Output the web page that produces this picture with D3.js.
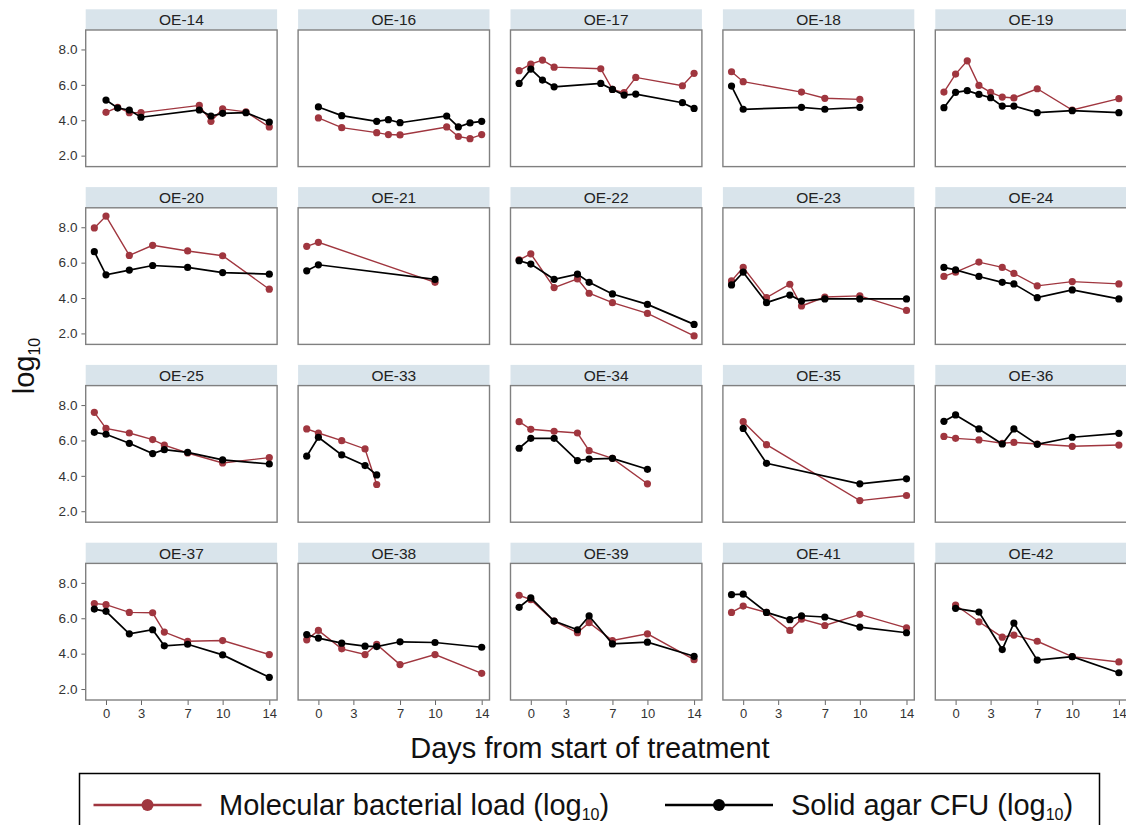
<!DOCTYPE html>
<html>
<head>
<meta charset="utf-8">
<script src="https://cdn.jsdelivr.net/npm/d3@7"></script>
<style>
    body { margin: 0; background: #fff; }
    svg { display: block; font-family: Arial, 'Liberation Sans', sans-serif; }
    .strip { fill: #d9e4eb; }
    .frame { fill: none; stroke: #808080; stroke-width: 1.4; }
    .strip-label { font-size: 15.5px; fill: #222; text-anchor: middle; }
    .axis text { font-size: 13.5px; fill: #333; font-family: Arial, 'Liberation Sans', sans-serif; }
    .axis line { stroke: #666; }
    .x-axis text { font-size: 13px; }
</style>
</head>
<body>
<svg id="chart"></svg>
<script>
// Patients, one small panel each
const patients = ['OE-14', 'OE-16', 'OE-17', 'OE-18', 'OE-19',
                  'OE-20', 'OE-21', 'OE-22', 'OE-23', 'OE-24',
                  'OE-25', 'OE-33', 'OE-34', 'OE-35', 'OE-36',
                  'OE-37', 'OE-38', 'OE-39', 'OE-41', 'OE-42'];

// Sampling days per patient
const sampleDays = [
    [0, 1, 2, 3, 8, 9, 10, 12, 14],
    [0, 2, 5, 6, 7, 11, 12, 13, 14],
    [-1, 0, 1, 2, 6, 7, 8, 9, 13, 14],
    [-1, 0, 5, 7, 10],
    [-1, 0, 1, 2, 3, 4, 5, 7, 10, 14],
    [-1, 0, 2, 4, 7, 10, 14],
    [-1, 0, 10],
    [-1, 0, 2, 4, 5, 7, 10, 14],
    [-1, 0, 2, 4, 5, 7, 10, 14],
    [-1, 0, 2, 4, 5, 7, 10, 14],
    [-1, 0, 2, 4, 5, 7, 10, 14],
    [-1, 0, 2, 4, 5],
    [-1, 0, 2, 4, 5, 7, 10],
    [0, 2, 10, 14],
    [-1, 0, 2, 4, 5, 7, 10, 14],
    [-1, 0, 2, 4, 5, 7, 10, 14],
    [-1, 0, 2, 4, 5, 7, 10, 14],
    [-1, 0, 2, 4, 5, 7, 10, 14],
    [-1, 0, 2, 4, 5, 7, 10, 14],
    [0, 2, 4, 5, 7, 10, 14]
];

// Molecular bacterial load (log10)
const molecularLoad = [
    [4.45, 4.73, 4.43, 4.43, 4.84, 3.94, 4.64, 4.47, 3.62],
    [4.13, 3.58, 3.30, 3.19, 3.17, 3.62, 3.08, 2.96, 3.19],
    [6.80, 7.17, 7.40, 7.00, 6.91, 5.74, 5.56, 6.42, 5.95, 6.65],
    [6.74, 6.18, 5.59, 5.24, 5.18],
    [5.59, 6.61, 7.36, 5.97, 5.58, 5.31, 5.26, 5.78, 4.58, 5.22],
    [7.96, 8.63, 6.41, 6.98, 6.66, 6.39, 4.50],
    [6.92, 7.15, 4.89],
    [6.16, 6.50, 4.59, 5.08, 4.27, 3.74, 3.13, 1.86],
    [4.97, 5.73, 4.02, 4.78, 3.55, 4.06, 4.12, 3.30],
    [5.22, 5.46, 6.03, 5.73, 5.39, 4.69, 4.93, 4.80],
    [7.59, 6.68, 6.42, 6.05, 5.74, 5.29, 4.73, 5.03],
    [6.65, 6.42, 5.99, 5.52, 3.51],
    [7.06, 6.63, 6.52, 6.42, 5.42, 4.99, 3.55],
    [7.06, 5.76, 2.60, 2.89],
    [6.23, 6.12, 6.03, 5.84, 5.89, 5.80, 5.67, 5.74],
    [6.83, 6.77, 6.33, 6.31, 5.22, 4.70, 4.74, 3.95],
    [4.78, 5.31, 4.27, 3.95, 4.52, 3.38, 3.95, 2.89],
    [7.30, 7.05, 5.84, 5.18, 5.75, 4.74, 5.12, 3.66],
    [6.33, 6.69, 6.33, 5.31, 5.95, 5.59, 6.22, 5.46],
    [6.75, 5.80, 4.93, 5.05, 4.70, 3.83, 3.53]
];

// Solid agar CFU (log10)
const agarCfu = [
    [5.14, 4.69, 4.58, 4.17, 4.58, 4.24, 4.39, 4.43, 3.90],
    [4.75, 4.26, 3.94, 4.03, 3.86, 4.24, 3.62, 3.85, 3.94],
    [6.08, 6.89, 6.27, 5.89, 6.08, 5.74, 5.42, 5.48, 4.99, 4.67],
    [5.93, 4.62, 4.73, 4.62, 4.73],
    [4.71, 5.58, 5.67, 5.46, 5.27, 4.80, 4.80, 4.43, 4.54, 4.43],
    [6.62, 5.31, 5.58, 5.84, 5.73, 5.44, 5.35],
    [5.54, 5.88, 5.05],
    [6.11, 5.92, 5.06, 5.35, 4.89, 4.23, 3.64, 2.51],
    [4.74, 5.46, 3.74, 4.17, 3.83, 3.95, 3.95, 3.95],
    [5.73, 5.59, 5.22, 4.89, 4.80, 4.02, 4.46, 3.95],
    [6.46, 6.35, 5.84, 5.26, 5.48, 5.33, 4.90, 4.67],
    [5.11, 6.18, 5.18, 4.58, 4.05],
    [5.56, 6.12, 6.12, 4.86, 4.95, 4.99, 4.37],
    [6.68, 4.71, 3.55, 3.83],
    [7.08, 7.44, 6.65, 5.80, 6.65, 5.78, 6.18, 6.40],
    [6.52, 6.39, 5.12, 5.35, 4.44, 4.53, 3.93, 2.66],
    [5.08, 4.88, 4.59, 4.42, 4.40, 4.67, 4.63, 4.36],
    [6.62, 7.15, 5.84, 5.35, 6.13, 4.55, 4.65, 3.85],
    [7.33, 7.36, 6.33, 5.92, 6.14, 6.07, 5.50, 5.18],
    [6.56, 6.35, 4.23, 5.73, 3.63, 3.83, 2.92]
];

const xTicks = [0, 3, 7, 10, 14];
const yTicks = [2, 4, 6, 8];

const seriesInfo = [
    { key: 'mol', label: 'Molecular bacterial load (log', color: '#a0363f' },
    { key: 'cfu', label: 'Solid agar CFU (log', color: '#000000' }
];

class SmallMultiples {

    constructor(_config) {
        this.config = {
            parentElement: _config.parentElement,
            containerWidth: _config.containerWidth || 1126,
            containerHeight: _config.containerHeight || 825,
            left: 85.7, top: 30,
            colStep: 212.4, rowStep: 177.8,
            panelWidth: 191.4, panelHeight: 136.6,
            stripHeight: 20.7
        };
        this.initVis();
    }

    initVis() {
        let vis = this;
        const c = vis.config;

        vis.svg = d3.select(c.parentElement)
            .attr('width', c.containerWidth)
            .attr('height', c.containerHeight);

        // Shared scales for every panel
        vis.xScale = d3.scaleLinear()
            .domain([-1.74, 14.67])
            .range([0, c.panelWidth]);

        vis.yScale = d3.scaleLinear()
            .domain([1.38, 9.1])
            .range([c.panelHeight, 0]);

        vis.line = d3.line()
            .x(d => vis.xScale(d.day))
            .y(d => vis.yScale(d.value));

        vis.xAxis = d3.axisBottom(vis.xScale)
            .tickValues(xTicks)
            .tickSize(5)
            .tickPadding(4);

        vis.yAxis = d3.axisLeft(vis.yScale)
            .tickValues(yTicks)
            .tickFormat(d3.format('.1f'))
            .tickSize(4.3)
            .tickPadding(4);

        vis.renderVis();
    }

    renderVis() {
        let vis = this;
        const c = vis.config;

        vis.panels = vis.svg.selectAll('.panel')
            .data(patients)
            .join('g')
                .attr('class', 'panel')
                .attr('transform', (d, i) => {
                    const col = i % 5, row = Math.floor(i / 5);
                    return `translate(${c.left + col * c.colStep}, ${c.top + row * c.rowStep})`;
                });

        vis.panels.append('rect')
            .attr('class', 'strip')
            .attr('y', -c.stripHeight)
            .attr('width', c.panelWidth)
            .attr('height', c.stripHeight);

        vis.panels.append('text')
            .attr('class', 'strip-label')
            .attr('x', c.panelWidth / 2)
            .attr('y', -c.stripHeight / 2)
            .attr('dy', '0.36em')
            .text(d => d);

        vis.panels.each(function(name, i) {
            const g = d3.select(this);
            const mol = sampleDays[i].map((day, j) => ({ day: day, value: molecularLoad[i][j] }));
            const cfu = sampleDays[i].map((day, j) => ({ day: day, value: agarCfu[i][j] }));

            [mol, cfu].forEach((pts, k) => {
                g.append('path')
                    .datum(pts)
                    .attr('d', vis.line)
                    .attr('fill', 'none')
                    .attr('stroke', seriesInfo[k].color)
                    .attr('stroke-width', k === 0 ? 1.4 : 1.7);

                g.selectAll('.pt-' + k)
                    .data(pts)
                    .join('circle')
                        .attr('class', 'pt-' + k)
                        .attr('cx', d => vis.xScale(d.day))
                        .attr('cy', d => vis.yScale(d.value))
                        .attr('r', 3.6)
                        .attr('fill', seriesInfo[k].color);
            });

            // y axis only on first column, x axis only on last row
            if (i % 5 === 0) {
                g.append('g').attr('class', 'axis y-axis').call(vis.yAxis)
                    .call(a => a.select('.domain').remove());
            }
            if (Math.floor(i / 5) === 3) {
                g.append('g').attr('class', 'axis x-axis')
                    .attr('transform', `translate(0,${c.panelHeight})`)
                    .call(vis.xAxis)
                    .call(a => a.select('.domain').remove());
            }
        });

        vis.panels.append('rect')
            .attr('class', 'frame')
            .attr('width', c.panelWidth)
            .attr('height', c.panelHeight);

        // Axis titles
        const yTitle = vis.svg.append('text')
            .attr('transform', 'translate(34, 366) rotate(-90)')
            .attr('text-anchor', 'middle')
            .attr('font-size', 29)
            .attr('fill', '#111');
        yTitle.append('tspan').text('log');
        yTitle.append('tspan').attr('font-size', 16).attr('dy', 6).text('10');

        vis.svg.append('text')
            .attr('x', 590)
            .attr('y', 758)
            .attr('text-anchor', 'middle')
            .attr('font-size', 29)
            .attr('fill', '#111')
            .text('Days from start of treatment');

        // Legend
        vis.svg.append('rect')
            .attr('x', 79.5).attr('y', 773.5)
            .attr('width', 1020).attr('height', 80)
            .attr('fill', 'none')
            .attr('stroke', '#000')
            .attr('stroke-width', 1.5);

        const legendX = [{ line: 93.5, text: 219 }, { line: 665, text: 791 }];
        const legendItems = vis.svg.selectAll('.legend-item')
            .data(seriesInfo)
            .join('g')
                .attr('class', 'legend-item')
                .attr('transform', (d, i) => `translate(${legendX[i].line}, 805)`);

        legendItems.append('line')
            .attr('x1', 0).attr('x2', 108)
            .attr('stroke', d => d.color)
            .attr('stroke-width', 2.5);

        legendItems.append('circle')
            .attr('cx', 54).attr('r', 6)
            .attr('fill', d => d.color);

        const legendText = legendItems.append('text')
            .attr('x', (d, i) => legendX[i].text - legendX[i].line)
            .attr('y', 10)
            .attr('font-size', 29)
            .attr('fill', '#111');
        legendText.append('tspan').text(d => d.label);
        legendText.append('tspan').attr('font-size', 16).attr('dy', 5).text('10');
        legendText.append('tspan').attr('dy', -5).text(')');
    }
}

new SmallMultiples({ parentElement: '#chart' });
</script>
</body>
</html>
